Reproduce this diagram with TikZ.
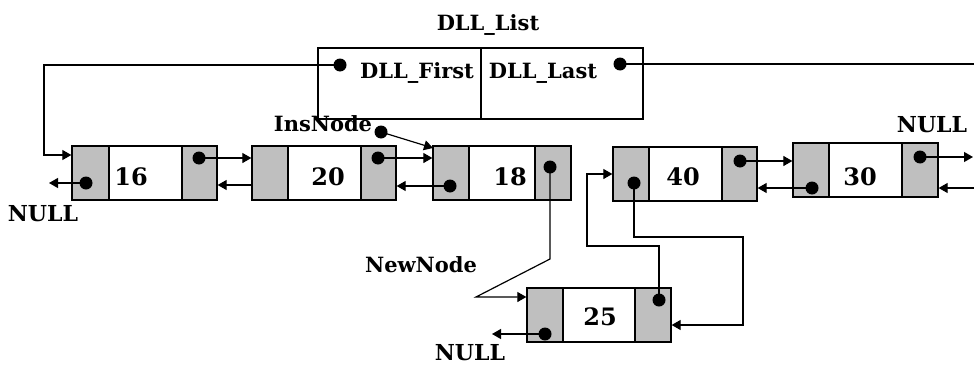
\documentclass[tikz,border=0pt]{standalone}
\usepackage{fontspec}
\setmainfont{DejaVu Serif}
\usetikzlibrary{arrows.meta}
\begin{document}
\begin{tikzpicture}[x=1pt,y=-1pt,
  cellg/.style={draw=black,line width=1.3pt,fill=gray!50,inner sep=0pt,minimum height=54pt},
  cellw/.style={draw=black,line width=1.3pt,fill=white,inner sep=0pt,minimum height=54pt},
  dot/.style={circle,fill=black,inner sep=0pt,minimum size=13pt},
  conn/.style={line width=1.2pt},
  arr/.style={line width=1.2pt,-{Triangle[length=9pt,width=10pt]}},
  lbl/.style={inner sep=0pt,anchor=base,font=\fontsize{21}{23}\selectfont\bfseries},
  nul/.style={inner sep=0pt,anchor=base,font=\fontsize{22}{24}\selectfont\bfseries},
  num/.style={inner sep=0pt,anchor=base,font=\fontsize{24}{26}\selectfont\bfseries}]
\useasboundingbox (0,0) rectangle (974,364);
% DLL_List box
\node[draw,line width=1.3pt,inner sep=0pt,minimum width=163pt,minimum height=71pt] (lf) at (399.5,83.5) {};
\node[draw,line width=1.3pt,inner sep=0pt,minimum width=162pt,minimum height=71pt] (ll) at (562,83.5) {};
\node[lbl] (title) at (488,30) {DLL\_List};
\node[lbl] (tfirst) at (417,78) {DLL\_First};
\node[lbl] (tlast) at (543,78) {DLL\_Last};
\node[dot] (dF) at (340,65) {};
\node[dot] (dL) at (620,64) {};
% node 16
\node[cellg,minimum width=37pt] (n16a) at (90.5,173) {};
\node[cellw,minimum width=73pt] (n16b) at (145.5,173) {};
\node[cellg,minimum width=35pt] (n16c) at (199.5,173) {};
\node[num] (t16) at (131,185) {16};
% node 20
\node[cellg,minimum width=36pt] (n20a) at (270,173) {};
\node[cellw,minimum width=73pt] (n20b) at (324.5,173) {};
\node[cellg,minimum width=35pt] (n20c) at (378.5,173) {};
\node[num] (t20) at (328,185) {20};
% node 18
\node[cellg,minimum width=36pt] (n18a) at (451,173) {};
\node[cellw,minimum width=66pt] (n18b) at (502,173) {};
\node[cellg,minimum width=36pt] (n18c) at (553,173) {};
\node[num] (t18) at (510,185) {18};
% node 40
\node[cellg,minimum width=36pt] (n40a) at (631,174) {};
\node[cellw,minimum width=73pt] (n40b) at (685.5,174) {};
\node[cellg,minimum width=35pt] (n40c) at (739.5,174) {};
\node[num] (t40) at (683,185) {40};
% node 30
\node[cellg,minimum width=36pt] (n30a) at (811,170) {};
\node[cellw,minimum width=73pt] (n30b) at (865.5,170) {};
\node[cellg,minimum width=36pt] (n30c) at (920,170) {};
\node[num] (t30) at (860,185) {30};
% node 25
\node[cellg,minimum width=36pt] (n25a) at (545,315) {};
\node[cellw,minimum width=72pt] (n25b) at (599,315) {};
\node[cellg,minimum width=36pt] (n25c) at (653,315) {};
\node[num] (t25) at (600,325) {25};
% dots in cells
\node[dot] (d16a) at (86,183) {};
\node[dot] (d16c) at (199,158) {};
\node[dot] (d20c) at (378,158) {};
\node[dot] (d18a) at (450,186) {};
\node[dot] (d18c) at (550,167) {};
\node[dot] (d40a) at (634,183) {};
\node[dot] (d40c) at (740,161) {};
\node[dot] (d30a) at (812,188) {};
\node[dot] (d30c) at (920,157) {};
\node[dot] (d25a) at (545,334) {};
\node[dot] (d25c) at (659,300) {};
\node[dot] (dIns) at (381,132) {};
% labels
\node[nul] (null1) at (43,221) {NULL};
\node[nul] (null2) at (932,132) {NULL};
\node[nul] (null3) at (470,360) {NULL};
\node[lbl] (ins) at (323,131) {InsNode};
\node[lbl] (new) at (421,272) {NewNode};
% coordinates
\coordinate (b1) at (44,155);
\coordinate (e1) at (974,64);
\coordinate (e16) at (49,183);
\coordinate (p20) at (252,185);
\coordinate (insT) at (433,148);
\coordinate (b9a) at (550,259);
\coordinate (b9b) at (476,297);
\coordinate (b10a) at (743,237);
\coordinate (b10b) at (743,325);
\coordinate (b11a) at (587,246);
\coordinate (b11b) at (587,174);
\coordinate (e25) at (492,334);
\coordinate (e30) at (973,157);
\coordinate (s30) at (974,188);
% connectors
\draw[arr] (dF.center) -| (b1) -- (b1 -| n16a.west);
\draw[conn] (dL.center) -- (e1);
\draw[arr] (d16a.center) -- (e16);
\draw[arr] (d16c.center) -- (d16c -| n20a.west);
\draw[arr] (p20) -- (p20 -| n16c.east);
\draw[arr] (d20c.center) -- (d20c -| n18a.west);
\draw[arr] (d18a.center) -- (d18a -| n20c.east);
\draw[arr] (dIns.center) -- (insT);
\draw[arr] (d18c.center) -- (b9a) -- (b9b) -- (b9b -| n25a.west);
\draw[arr] (d40a.center) |- (b10a) -- (b10b) -- (b10b -| n25c.east);
\draw[arr] (d25c.center) |- (b11a) -- (b11b) -- (b11b -| n40a.west);
\draw[arr] (d25a.center) -- (e25);
\draw[arr] (d40c.center) -- (d40c -| n30a.west);
\draw[arr] (d30a.center) -- (d30a -| n40c.east);
\draw[arr] (d30c.center) -- (e30);
\draw[arr] (s30) -- (s30 -| n30c.east);
\end{tikzpicture}
\end{document}
